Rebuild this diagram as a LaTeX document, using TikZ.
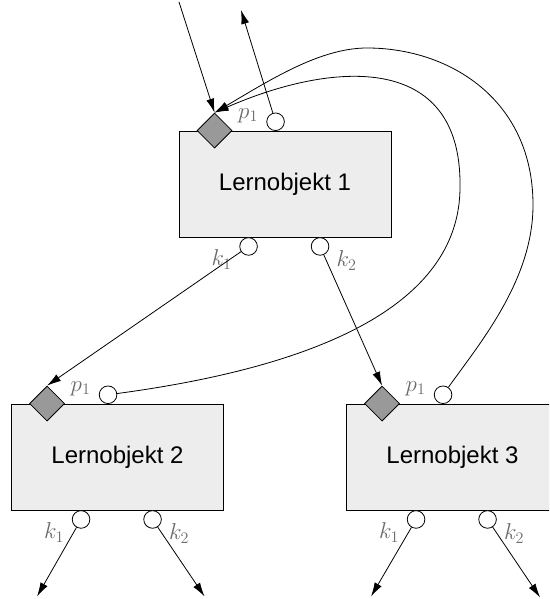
\RequirePackage{fix-cm}
\documentclass[tikz,border=0pt]{standalone}
\usepackage{fontspec}
\setsansfont{Liberation Sans}
\usetikzlibrary{shapes.geometric,arrows.meta,calc}

\begin{document}
\begin{tikzpicture}[x=1pt,y=-1pt,
  lobox/.style={draw, line width=0.9pt, fill=black!7, minimum width=212, minimum height=106,
                inner sep=0, font=\fontsize{24}{28}\sffamily},
  port/.style={circle, draw, line width=0.8pt, fill=white, minimum size=17.6, inner sep=0},
  entry/.style={diamond, draw, line width=0.8pt, fill=black!40, minimum width=35,
                minimum height=35, inner sep=0},
  lbl/.style={text=black!58, font=\fontsize{23}{27}\selectfont, inner sep=0},
  conn/.style={line width=0.8pt, -{Latex[length=14pt,width=8pt]}},
]
\useasboundingbox (0,0) rectangle (549,599);
\clip (0,0) rectangle (549,599);

% learning objects
\node[lobox] (b1) at (285,184)   {Lernobjekt 1};
\node[lobox] (b2) at (117.5,457) {Lernobjekt 2};
\node[lobox] (b3) at (452.5,457) {Lernobjekt 3};

% ports of every object: entry diamond, p_1 output, k_1 / k_2 continuations
\foreach \b in {b1,b2,b3}{
  \node[entry] (\b d)  at ($(\b.north west)+(36,0)$) {};
  \node[port]  (\b p)  at ($(\b.north west)+(97,-8.8)$) {};
  \node[port]  (\b k1) at ($(\b.south west)+(70,9)$) {};
  \node[port]  (\b k2) at ($(\b.south west)+(141.5,9)$) {};
  \node[lbl]   (\b lp)  at ($(\b.north west)+(69.5,-15)$) {$p_1$};
  \node[lbl]   (\b lk1) at ($(\b.south west)+(43,22)$) {$k_1$};
  \node[lbl]   (\b lk2) at ($(\b.south west)+(168,23)$) {$k_2$};
}

% free ends
\coordinate (inTop)  at (179,2);
\coordinate (outTop) at (241,10);
\coordinate (e2k1) at ($(b2k1)+(-44,77)$);
\coordinate (e2k2) at ($(b2k2)+(52,77)$);
\coordinate (e3k1) at ($(b3k1)+(-45,77)$);
\coordinate (e3k2) at ($(b3k2)+(52.5,78)$);

% connectors
\draw[conn] (inTop) -- (b1d.north);
\draw[conn] (b1p) -- (outTop);
\draw[conn] (b1k1) -- (b2d.north);
\draw[conn] (b1k2) -- (b3d.north);
\draw[conn] (b2k1) -- (e2k1);
\draw[conn] (b2k2) -- (e2k2);
\draw[conn] (b3k1) -- (e3k1);
\draw[conn] (b3k2) -- (e3k2);

% feedback from the p_1 outputs back to the first object
\draw[conn] (b2p) .. controls (330,365) and (460,300) .. (460,187)
                  .. controls (462,50) and (330,62) .. (b1d.north);
\draw[conn] (b3p) .. controls (480,343) and (533,280) .. (533,205)
                  .. controls (533,100) and (450,48) .. (367,48)
                  .. controls (320,48) and (270,80) .. (b1d.north);
\end{tikzpicture}
\end{document}
